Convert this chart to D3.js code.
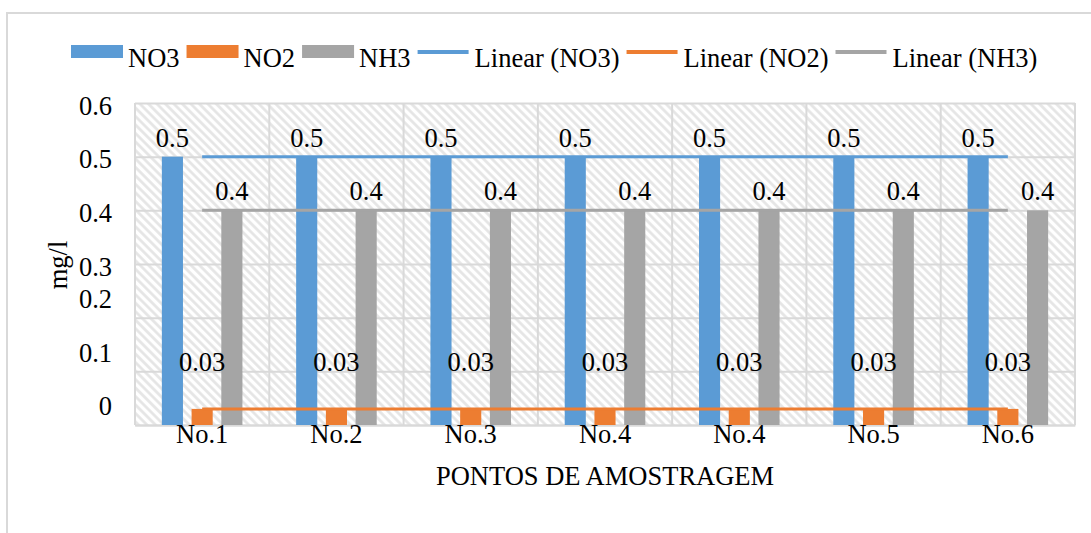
<!DOCTYPE html>
<html>
<head>
<meta charset="utf-8">
<script src="https://cdn.jsdelivr.net/npm/d3@7"></script>
<style>
  html, body { margin: 0; padding: 0; background: #fff; }
  svg { display: block; }
</style>
</head>
<body>
<svg id="chart" width="1091" height="533"></svg>
<script>
// ---- data ----
const categories = ["No.1", "No.2", "No.3", "No.4", "No.4", "No.5", "No.6"];
const seriesNames = ["NO3", "NO2", "NH3"];
const NO3 = [0.5, 0.5, 0.5, 0.5, 0.5, 0.5, 0.5];
const NO2 = [0.03, 0.03, 0.03, 0.03, 0.03, 0.03, 0.03];
const NH3 = [0.4, 0.4, 0.4, 0.4, 0.4, 0.4, 0.4];
const dataLabels = {
  NO3: ["0.5", "0.5", "0.5", "0.5", "0.5", "0.5", "0.5"],
  NO2: ["0.03", "0.03", "0.03", "0.03", "0.03", "0.03", "0.03"],
  NH3: ["0.4", "0.4", "0.4", "0.4", "0.4", "0.4", "0.4"]
};
const gridValues = [0, 0.1, 0.2, 0.3, 0.4, 0.5, 0.6];
const yTickLabels = ["0.6", "0.5", "0.4", "0.3", "0.2", "0.1", "0"];
const yTickAt = [0.6, 0.5, 0.4, 0.3, 0.24, 0.14, 0.04];
const yTitle = "mg/l";
const xTitle = "PONTOS DE AMOSTRAGEM";
const legendLabels = ["NO3", "NO2", "NH3", "Linear (NO3)", "Linear (NO2)", "Linear (NH3)"];

// ---- styles ----
const colors = { NO3: "#5b9bd5", NO2: "#ed7d31", NH3: "#a5a5a5" };
const values = { NO3, NO2, NH3 };
const labelOffset = { NO3: 10, NO2: 38, NH3: 10 };
const FS = 26.5;
const FONT = "'Liberation Serif', 'Times New Roman', serif";
const gridColor = "#d9d9d9";

const svg = d3.select("#chart");
const plot = { left: 135, right: 1075, top: 103, bottom: 425 };

// outer chart border
svg.append("rect").attr("x", 7).attr("y", 13).attr("width", 1200).attr("height", 600)
  .attr("fill", "#fff").attr("stroke", gridColor).attr("stroke-width", 2);

// hatch pattern
const defs = svg.append("defs");
const pat = defs.append("pattern").attr("id", "hatch").attr("patternUnits", "userSpaceOnUse")
  .attr("width", 6).attr("height", 6).attr("patternTransform", "rotate(-45)");
pat.append("rect").attr("width", 6).attr("height", 6).attr("fill", "#ffffff");
pat.append("line").attr("x1", 1.5).attr("y1", 0).attr("x2", 1.5).attr("y2", 6)
  .attr("stroke", "#e4e4e4").attr("stroke-width", 2.6);

// scales
const x = d3.scaleBand().domain(d3.range(categories.length)).range([plot.left, plot.right]).padding(0);
const bw = x.bandwidth();
const xs = d3.scaleBand().domain(seriesNames).range([0.2 * bw, 0.8 * bw]).paddingInner(0.29).paddingOuter(0);
const y = d3.scaleLinear().domain([0, 0.6]).range([plot.bottom, plot.top]);

// plot background
svg.append("rect").attr("x", plot.left).attr("y", plot.top)
  .attr("width", plot.right - plot.left).attr("height", plot.bottom - plot.top)
  .attr("fill", "url(#hatch)");

// horizontal gridlines
svg.append("g").attr("transform", `translate(${plot.left},0)`)
  .call(d3.axisLeft(y).tickValues(gridValues).tickSize(-(plot.right - plot.left)).tickFormat(""))
  .call(g => g.select(".domain").remove())
  .call(g => g.selectAll("line").attr("stroke", gridColor).attr("stroke-width", 2));

// vertical gridlines at category boundaries
const boundaries = d3.range(categories.length + 1).map(i => plot.left + i * bw);
svg.append("g").selectAll("line").data(boundaries).join("line")
  .attr("x1", d => d).attr("x2", d => d).attr("y1", plot.top).attr("y2", plot.bottom)
  .attr("stroke", gridColor).attr("stroke-width", 2);

// y tick labels
svg.append("g").attr("transform", `translate(${plot.left - 23},0)`)
  .call(d3.axisLeft(y).tickValues(yTickAt).tickSize(0).tickPadding(0)
    .tickFormat((d, i) => yTickLabels[i]))
  .call(g => g.select(".domain").remove())
  .call(g => g.selectAll("text").attr("font-size", FS).attr("dy", "0.42em")
    .style("font-family", FONT).attr("fill", "#000"));

// x axis
svg.append("g").attr("transform", `translate(0,${plot.bottom})`)
  .call(d3.axisBottom(x).tickSize(0).tickPadding(0).tickFormat(i => categories[i]))
  .call(g => g.select(".domain").attr("stroke", gridColor).attr("stroke-width", 2))
  .call(g => g.selectAll("text").attr("font-size", FS).attr("dy", "0.68em")
    .attr("y", 0).style("font-family", FONT).attr("fill", "#000"));

// bars
seriesNames.forEach(s => {
  svg.append("g").selectAll("rect").data(values[s]).join("rect")
    .attr("x", (d, i) => x(i) + xs(s))
    .attr("width", xs.bandwidth())
    .attr("y", d => y(d))
    .attr("height", d => y(0) - y(d))
    .attr("fill", colors[s]);
});

// linear trendlines (least squares on category index)
function linReg(vals) {
  const n = vals.length, xsI = d3.range(n);
  const mx = d3.mean(xsI), my = d3.mean(vals);
  let num = 0, den = 0;
  xsI.forEach((xi, k) => { num += (xi - mx) * (vals[k] - my); den += (xi - mx) * (xi - mx); });
  const slope = den ? num / den : 0;
  return { slope, intercept: my - slope * mx };
}
seriesNames.forEach(s => {
  const r = linReg(values[s]);
  const i0 = 0, i1 = categories.length - 1;
  svg.append("line")
    .attr("x1", x(i0) + bw / 2).attr("x2", x(i1) + bw / 2)
    .attr("y1", y(r.intercept + r.slope * i0)).attr("y2", y(r.intercept + r.slope * i1))
    .attr("stroke", colors[s]).attr("stroke-width", 3);
});

// data labels
seriesNames.forEach(s => {
  svg.append("g").selectAll("text").data(values[s]).join("text")
    .attr("x", (d, i) => x(i) + xs(s) + xs.bandwidth() / 2)
    .attr("y", d => y(d) - labelOffset[s])
    .attr("text-anchor", "middle").attr("font-size", FS).style("font-family", FONT)
    .text((d, i) => dataLabels[s][i]);
});

// axis titles
svg.append("text").attr("transform", `translate(67,265) rotate(-90)`)
  .attr("text-anchor", "middle").attr("font-size", FS).style("font-family", FONT).text(yTitle);
svg.append("text").attr("x", (plot.left + plot.right) / 2).attr("y", 485)
  .attr("text-anchor", "middle").attr("font-size", FS).style("font-family", FONT).text(xTitle);

// legend
const leg = svg.append("g");
let lx = 71;
const legendY = 52;
legendLabels.forEach((lab, i) => {
  const s = seriesNames[i % 3];
  if (i < 3) {
    leg.append("rect").attr("x", lx).attr("y", legendY - 7).attr("width", 52).attr("height", 13).attr("fill", colors[s]);
  } else {
    leg.append("line").attr("x1", lx).attr("x2", lx + 51).attr("y1", legendY).attr("y2", legendY)
      .attr("stroke", colors[s]).attr("stroke-width", 4);
  }
  const t = leg.append("text").attr("x", lx + 57).attr("y", 67).attr("font-size", FS)
    .style("font-family", FONT).text(lab);
  lx += 57 + t.node().getComputedTextLength() + 7;
});
</script>
</body>
</html>
